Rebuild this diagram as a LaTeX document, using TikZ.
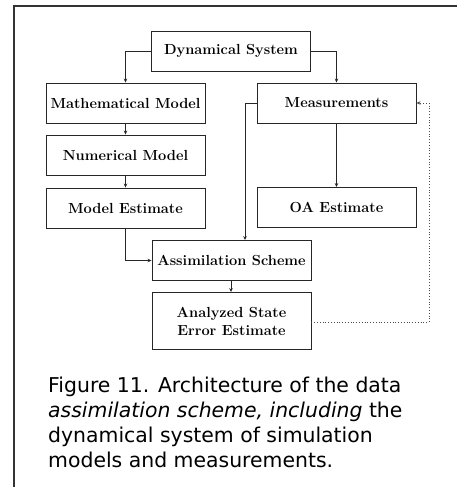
\documentclass[tikz,border=0pt]{standalone}
\usepackage{fontspec}
\newfontfamily\capfont{DejaVu Sans}
\usetikzlibrary{arrows.meta}
\tikzset{
  stage/.style={draw=black!85, line width=0.9pt, minimum width=159pt, minimum height=40pt,
    inner sep=0pt, font=\fontsize{14.6}{17}\selectfont\bfseries, align=center},
  flow/.style={draw=black!85, line width=0.8pt, -{Stealth[length=4pt,width=3.5pt]}},
  feedback/.style={draw=black!70, line width=0.8pt, dotted, -{Stealth[length=4pt,width=3.5pt]}},
  frameline/.style={draw=black!80, line width=1.3pt}
}
\begin{document}
\begin{tikzpicture}[x=1pt,y=-1pt]
\useasboundingbox (0,0) rectangle (457,487);
% outer frame: top and left edges
\draw[frameline] (457,6) -- (14,6) -- (14,487);

% stages
\node[stage] (dyn)  at (231,51)  {Dynamical System};
\node[stage] (math) at (125.5,103) {Mathematical Model};
\node[stage] (meas) at (336.5,103) {Measurements};
\node[stage] (num)  at (125.5,155) {Numerical Model};
\node[stage] (mest) at (125.5,208) {Model Estimate};
\node[stage] (oa)   at (336.5,207.5) {OA Estimate};
\node[stage] (asm)  at (231.5,260.5) {Assimilation Scheme};
\node[stage, minimum height=57pt, font=\fontsize{14.6}{18}\selectfont\bfseries] (ana) at (231.5,321) {Analyzed State\\Error Estimate};

% helper points for the routed connectors
\coordinate (mtap) at (245,103);
\coordinate (fbr) at (429,322);

% connectors
\draw[flow] (dyn.west) -| (math.north);
\draw[flow] (dyn.east) -| (meas.north);
\draw[flow] (math) -- (num);
\draw[flow] (num) -- (mest);
\draw[flow] (meas) -- (oa);
\draw[flow] (meas.west) -| (asm.north -| mtap);
\draw[flow] (mest.south) |- (asm.west);
\draw[flow] (asm.south -| 231,0) -- (ana.north -| 231,0);
\draw[feedback] (ana.east |- fbr) -- (fbr) |- (meas.east);

% caption (base anchor sits on the last line)
\node[anchor=base west, inner sep=0pt, align=left, font=\capfont\fontsize{20.4}{25}\selectfont] (caption) at (48,467.5)
  {Figure 11. Architecture of the data\\
   \textit{assimilation scheme, including} the\\
   dynamical system of simulation\\
   models and measurements.};
\end{tikzpicture}
\end{document}
